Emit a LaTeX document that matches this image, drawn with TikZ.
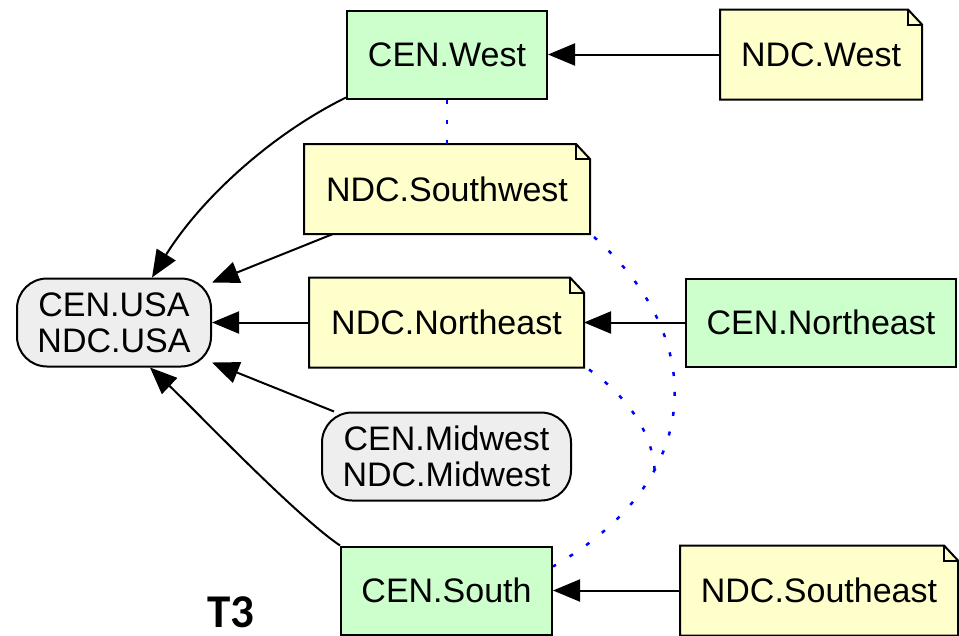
\documentclass[tikz,border=0pt]{standalone}
\usepackage{fontspec}
\setmainfont{Liberation Sans}
\newfontfamily\labelfont{Carlito}
\usetikzlibrary{arrows.meta,backgrounds}
\definecolor{cengreen}{RGB}{204,255,204}
\definecolor{ndcyellow}{RGB}{255,255,204}
\definecolor{agggrey}{RGB}{238,238,238}
\begin{document}
\begin{tikzpicture}[x=1pt,y=-1pt,
  base/.style={minimum height=88pt, inner sep=0pt, font=\fontsize{34}{36}\selectfont, align=center, line width=2pt},
  cenbox/.style={base, draw, fill=cengreen},
  aggbox/.style={base, draw, fill=agggrey, rounded corners=30pt},
  notebox/.style={base},
  noteline/.style={draw, line width=2pt, fill=ndcyellow, line join=miter},
  edge/.style={line width=2pt, -{Triangle[length=27pt,width=22pt]}},
  link/.style={blue, line width=2.5pt, dash pattern=on 4pt off 16pt}]
\useasboundingbox (0,0) rectangle (959,635);
\node[cenbox, minimum width=200pt] (CENWest) at (447,54.5) {CEN.West};
\node[notebox, minimum width=200pt] (NDCWest) at (821,54.5) {NDC.West};
\node[notebox, minimum width=284pt] (NDCSW) at (447,189) {NDC.Southwest};
\node[aggbox, minimum width=194pt] (USA) at (114,322.5) {CEN.USA\\NDC.USA};
\node[notebox, minimum width=273pt] (NDCNE) at (446.5,322.5) {NDC.Northeast};
\node[cenbox, minimum width=270pt] (CENNE) at (821,322.5) {CEN.Northeast};
\node[aggbox, minimum width=249pt] (Mid) at (446.5,456.5) {CEN.Midwest\\NDC.Midwest};
\node[cenbox, minimum width=211pt] (CENS) at (446.5,590.5) {CEN.South};
\node[notebox, minimum width=276pt] (NDCSE) at (819,590.5) {NDC.Southeast};
\node[font=\labelfont\bfseries\fontsize{47}{47}\selectfont, anchor=base, inner sep=0pt] (T3) at (231,627) {T3};
\begin{scope}[on background layer]
\foreach \n in {NDCWest,NDCSW,NDCNE,NDCSE}{
  \path[noteline] (\n.south west) -- (\n.north west) -- ([xshift=-14pt]\n.north east)
     -- ([yshift=-15pt]\n.north east) -- (\n.south east) -- cycle;
  \draw[line width=2pt] ([xshift=-14pt]\n.north east) -- ([xshift=-14pt,yshift=-15pt]\n.north east)
     -- ([yshift=-15pt]\n.north east);
}
\end{scope}
\draw[edge] (NDCWest) -- (CENWest);
\draw[edge] ([yshift=2pt]CENWest.south west) .. controls (270,135) and (200,200) .. ([xshift=38pt]USA.north);
\draw[edge] ([xshift=29pt]NDCSW.south west) -- ([yshift=-5pt]USA.north east);
\draw[edge] (NDCNE) -- (USA);
\draw[edge] (CENNE) -- (NDCNE);
\draw[edge] ([xshift=13pt]Mid.north west) -- ([yshift=5pt]USA.south east);
\draw[edge] (CENS.north west) .. controls (295,515) and (195,410) .. ([xshift=36pt]USA.south);
\draw[edge] (NDCSE) -- (CENS);
\draw[link] (CENWest) -- (NDCSW);
\draw[link] ([xshift=4pt,yshift=-3pt]NDCSW.south east) .. controls (710,340) and (705,480) .. ([yshift=-21pt]CENS.north east) coordinate[pos=0.68] (m);
\draw[link] ([xshift=5pt,yshift=-2pt]NDCNE.south east) .. controls (625,395) and (652,430) .. (m);
\end{tikzpicture}
\end{document}
